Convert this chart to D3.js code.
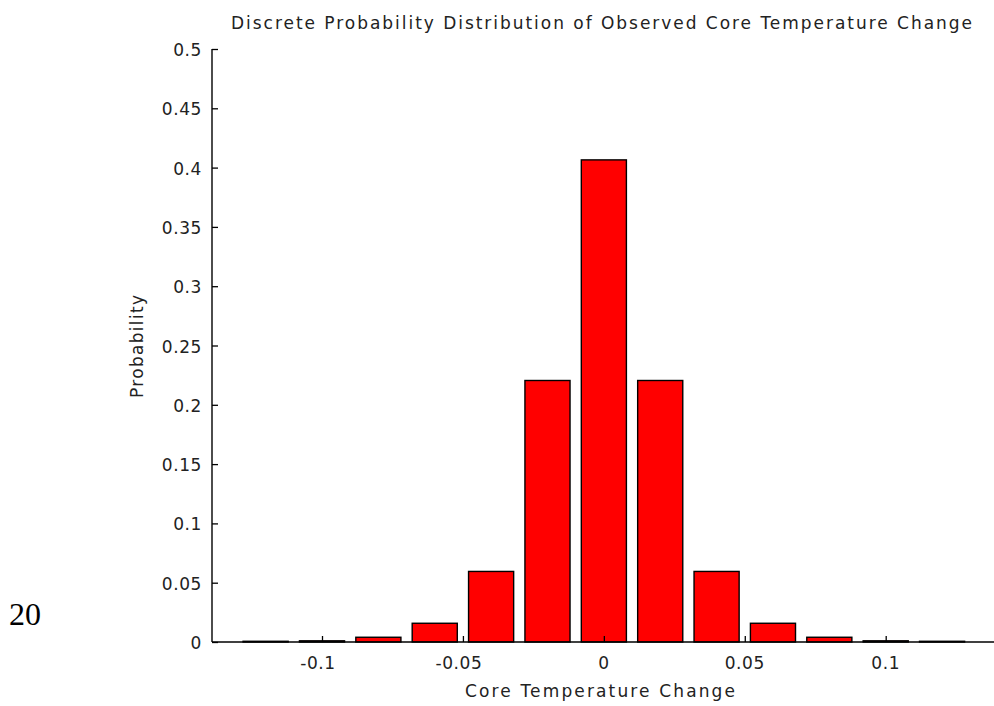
<!DOCTYPE html>
<html><head><meta charset="utf-8">
<script src="https://cdn.jsdelivr.net/npm/d3@7"></script>
<style>body{margin:0;background:#fff}svg{display:block}</style>
</head><body>
<svg id="c" width="994" height="706"></svg>
<script>
const centers = [-0.12,-0.10,-0.08,-0.06,-0.04,-0.02,0,0.02,0.04,0.06,0.08,0.10,0.12];
const probs = [0.0006,0.001,0.004,0.0158,0.0595,0.2205,0.4065,0.2205,0.0595,0.0158,0.004,0.001,0.0006];
const yTicks = [0,0.05,0.1,0.15,0.2,0.25,0.3,0.35,0.4,0.45,0.5];
const xTicks = [-0.1,-0.05,0,0.05,0.1];
const titleText = "Discrete Probability Distribution of Observed Core Temperature Change";

const SANS = "'DejaVu Sans',Verdana,sans-serif";
const fmt = d => String(+d.toFixed(2));
const svg = d3.select("#c");
const x = d3.scaleLinear().domain([-0.1,0.1]).range([322,885.7]);
const y = d3.scaleLinear().domain([0,0.5]).range([642,49]);
const xLeft = 212, xRight = 994;
const bw = 0.016;

svg.append("g").selectAll("rect").data(centers).join("rect")
  .attr("x", d=>x(d-bw/2)).attr("width", d=>x(d+bw/2)-x(d-bw/2))
  .attr("y", (d,i)=>y(probs[i])).attr("height",(d,i)=>y(0)-y(probs[i]))
  .attr("fill","#ff0000").attr("stroke","#000").attr("stroke-width",1.4);

const yAxis = d3.axisRight(y).tickValues(yTicks).tickSize(6);
const ga = svg.append("g").attr("transform",`translate(${xLeft},0)`).call(yAxis);
ga.select(".domain").remove();
ga.selectAll("text").remove();
ga.selectAll("line").attr("stroke-width",1.3);
svg.append("line").attr("x1",xLeft).attr("x2",xLeft).attr("y1",y(0.5)).attr("y2",y(0)).attr("stroke","#000").attr("stroke-width",1.4);
svg.append("g").selectAll("text").data(yTicks).join("text")
  .attr("x",xLeft-10).attr("y",d=>y(d)+7).attr("text-anchor","end")
  .style("font-family",SANS).style("font-size","17px").style("letter-spacing","0.6px").attr("fill","#222").text(fmt);

const xAxis = d3.axisTop(x).tickValues(xTicks).tickSize(6);
const gx = svg.append("g").attr("transform",`translate(0,${y(0)})`).call(xAxis);
gx.select(".domain").remove(); gx.selectAll("text").remove();
gx.selectAll("line").attr("stroke-width",1.3);
svg.append("line").attr("x1",xLeft).attr("x2",xRight).attr("y1",y(0)).attr("y2",y(0)).attr("stroke","#000").attr("stroke-width",1.4);
svg.append("g").selectAll("text").data(xTicks).join("text")
  .attr("x",d=>x(d)-(d<0?4:0)).attr("y",669).attr("text-anchor","middle")
  .style("font-family",SANS).style("font-size","17px").style("letter-spacing","0.6px").attr("fill","#222").text(fmt);

svg.append("text").attr("x",231).attr("y",29).attr("textLength",741).attr("lengthAdjust","spacing")
  .style("font-family",SANS).style("font-size","17px").attr("fill","#222").text(titleText);
svg.append("text").attr("x",465).attr("y",697).attr("textLength",270).attr("lengthAdjust","spacing")
  .style("font-family",SANS).style("font-size","17px").attr("fill","#222").text("Core Temperature Change");
svg.append("text").attr("transform","translate(143,398) rotate(-90)").attr("textLength",103).attr("lengthAdjust","spacing")
  .style("font-family",SANS).style("font-size","17px").attr("fill","#222").text("Probability");
svg.append("text").attr("x",9).attr("y",625)
  .style("font-family","'Liberation Serif','Times New Roman',serif").style("font-size","32px").attr("fill","#000").text("20");
</script>
</body></html>
